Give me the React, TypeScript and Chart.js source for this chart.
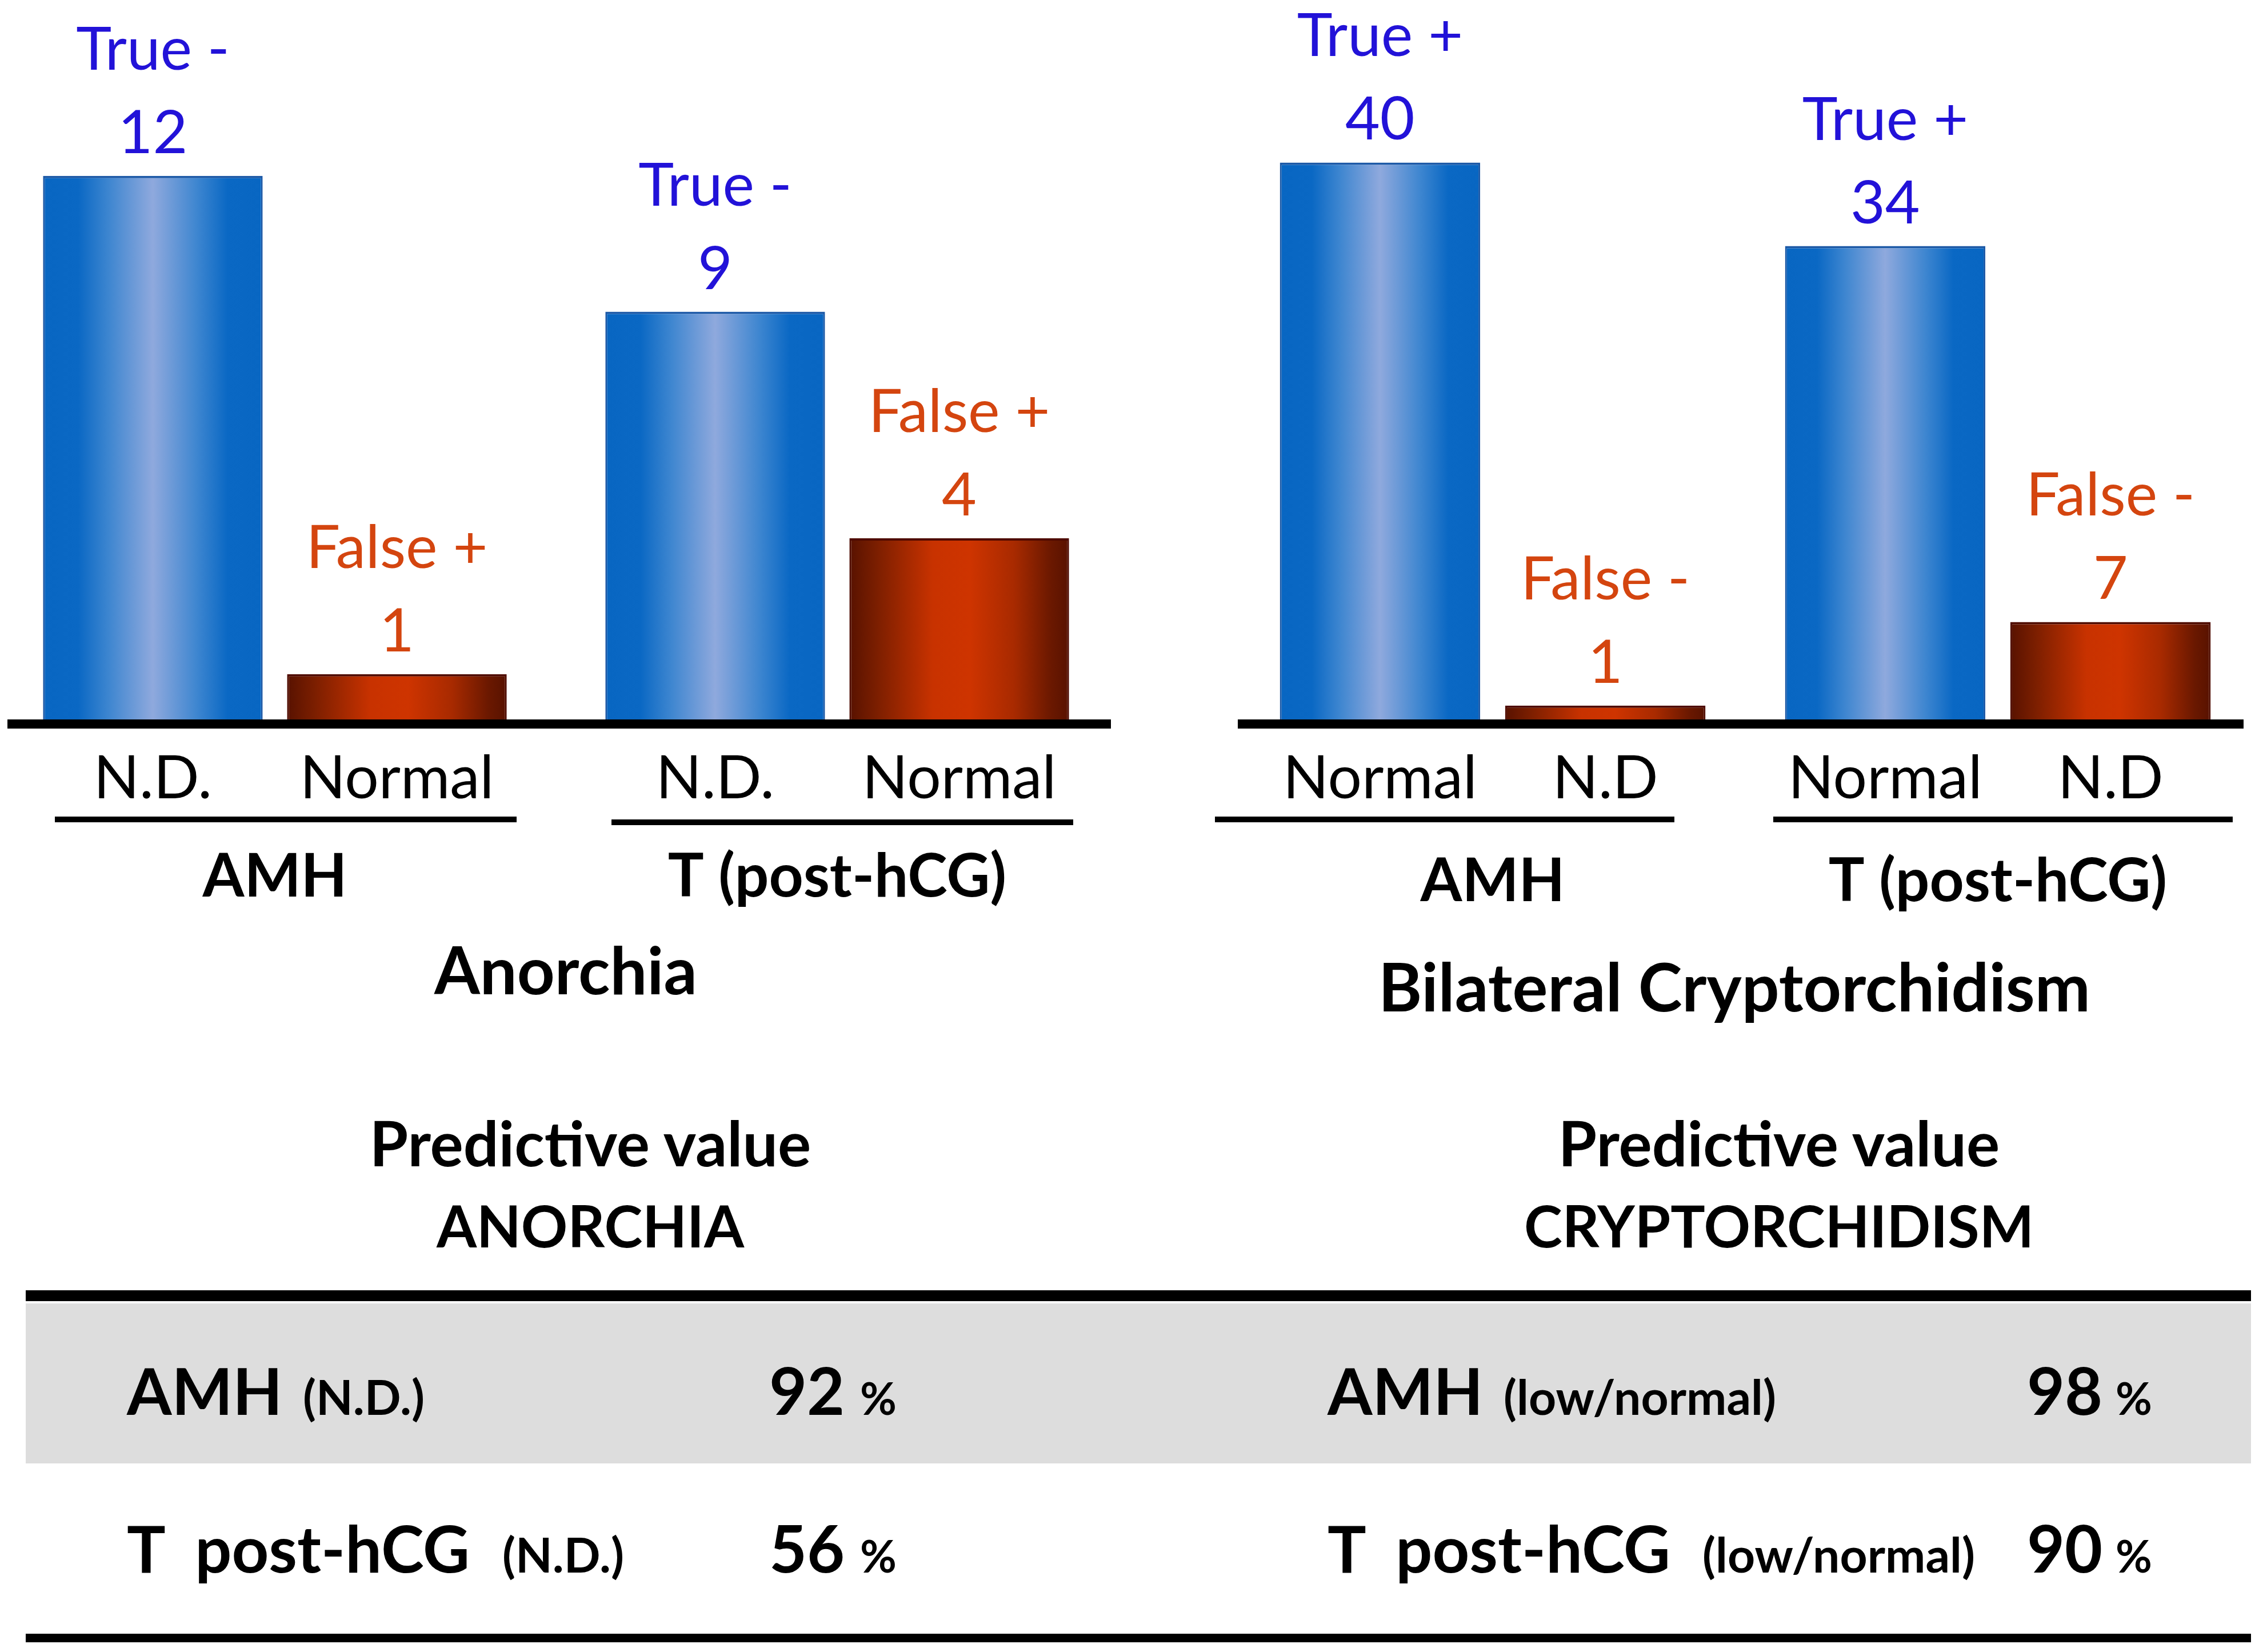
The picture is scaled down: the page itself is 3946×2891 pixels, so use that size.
import React, { useEffect, useRef } from "react";
import { Chart, registerables } from "chart.js";

Chart.register(...registerables);

// ---------------- data ----------------
const anorchiaCategories = ["AMH", "T (post-hCG)"];
const anorchiaSeriesNames = ["N.D.", "Normal"];
const anorchiaBlueValues = [12, 9];
const anorchiaRedValues = [1, 4];
const anorchiaBlueTags = ["True -", "True -"];
const anorchiaRedTags = ["False +", "False +"];
const anorchiaTitle = "Anorchia";

const cryptCategories = ["AMH", "T (post-hCG)"];
const cryptSeriesNames = ["Normal", "N.D"];
const cryptBlueValues = [40, 34];
const cryptRedValues = [1, 7];
const cryptBlueTags = ["True +", "True +"];
const cryptRedTags = ["False -", "False -"];
const cryptTitle = "Bilateral Cryptorchidism";

const tableHeaderAnorchia = ["Predictive value", "ANORCHIA"];
const tableHeaderCrypt = ["Predictive value", "CRYPTORCHIDISM"];
const tableRowMarkers = ["AMH", "T  post-hCG"];
const anorchiaQualifiers = ["(N.D.)", "(N.D.)"];
const anorchiaPredictive = [92, 56];
const cryptQualifiers = ["(low/normal)", "(low/normal)"];
const cryptPredictive = [98, 90];

// ---------------- styles ----------------
const FONT = "Lato, 'Open Sans', sans-serif";
const BLUE_TEXT = "#2212D8";
const RED_TEXT = "#D4450F";
const BLUE_STOPS: [number, string][] = [
  [0, "#0866C2"],
  [0.16, "#0A68C4"],
  [0.3, "#3E86D0"],
  [0.5, "#8FA9DD"],
  [0.7, "#3E86D0"],
  [0.84, "#0A68C4"],
  [1, "#0866C2"],
];
const RED_STOPS: [number, string][] = [
  [0, "#581200"],
  [0.12, "#7A1E00"],
  [0.38, "#C83200"],
  [0.55, "#CE3400"],
  [0.75, "#A82A00"],
  [0.92, "#6A1800"],
  [1, "#581200"],
];

function makeFill(stops: [number, string][], catPct: number, barPct: number) {
  return (c: any) => {
    const chart = c.chart;
    const xs = chart && chart.scales ? chart.scales.x : null;
    if (!xs || c.dataIndex == null || c.datasetIndex == null || !xs.width) {
      return stops[3][1];
    }
    const n = chart.data.labels.length;
    const nds = chart.data.datasets.length;
    const catW = xs.width / n;
    const slot = (catW * catPct) / nds;
    const cx = xs.getPixelForValue(c.dataIndex) + (c.datasetIndex - (nds - 1) / 2) * slot;
    const w = slot * barPct;
    const g = chart.ctx.createLinearGradient(cx - w / 2, 0, cx + w / 2, 0);
    stops.forEach(([o, col]) => g.addColorStop(o, col));
    return g;
  };
}

const decorPlugin = {
  id: "panelDecor",
  afterDatasetsDraw(chart: any, _args: any, opts: any) {
    const ctx = chart.ctx;
    const area = chart.chartArea;
    ctx.save();
    // baseline
    ctx.fillStyle = "#000";
    ctx.fillRect(opts.baseX0, area.bottom, opts.baseX1 - opts.baseX0, 16);
    ctx.textAlign = "center";
    ctx.textBaseline = "alphabetic";
    chart.data.datasets.forEach((ds: any, di: number) => {
      const meta = chart.getDatasetMeta(di);
      meta.data.forEach((el: any, i: number) => {
        const x = el.x;
        const top = el.y;
        ctx.fillStyle = ds.tagColor;
        ctx.font = `400 105px ${FONT}`;
        ctx.fillText(String(ds.data[i]), x, top - 40);
        ctx.fillText(ds.tags[i], x, top - 40 - 146);
        ctx.fillStyle = "#000";
        ctx.font = `400 105px ${FONT}`;
        ctx.fillText(ds.label, x, opts.subBaseline);
      });
    });
    ctx.fillStyle = "#000";
    chart.data.labels.forEach((lab: string, i: number) => {
      const cx = chart.scales.x.getPixelForValue(i);
      const uc = cx + opts.underlineOffsets[i];
      ctx.fillRect(uc - opts.underlineHalf, opts.underlineY[i] - 5, opts.underlineHalf * 2, 10);
      ctx.font = `700 105px ${FONT}`;
      ctx.fillText(lab, cx, opts.groupBaseline);
    });
    ctx.restore();
  },
};

type PanelProps = {
  left: number;
  width: number;
  height: number;
  padLeft: number;
  padRight: number;
  categories: string[];
  seriesNames: string[];
  blue: number[];
  red: number[];
  blueTags: string[];
  redTags: string[];
  yMax: number;
  catPct: number;
  barPct: number;
  baseX0: number;
  baseX1: number;
  underlineOffsets: number[];
  underlineHalf: number;
  underlineY: number[];
  groupBaseline: number;
};

function BarPanel(p: PanelProps) {
  const ref = useRef<HTMLCanvasElement | null>(null);
  useEffect(() => {
    if (!ref.current) return;
    const chart = new Chart(ref.current, {
      type: "bar",
      data: {
        labels: p.categories,
        datasets: [
          {
            label: p.seriesNames[0],
            data: p.blue,
            backgroundColor: makeFill(BLUE_STOPS, p.catPct, p.barPct),
            borderColor: "#1B58A6",
            borderWidth: { top: 4, left: 3, right: 3, bottom: 0 },
            categoryPercentage: p.catPct,
            barPercentage: p.barPct,
            tags: p.blueTags,
            tagColor: BLUE_TEXT,
          } as any,
          {
            label: p.seriesNames[1],
            data: p.red,
            backgroundColor: makeFill(RED_STOPS, p.catPct, p.barPct),
            borderColor: "#4E0A00",
            borderWidth: { top: 4, left: 3, right: 3, bottom: 0 },
            categoryPercentage: p.catPct,
            barPercentage: p.barPct,
            tags: p.redTags,
            tagColor: RED_TEXT,
          } as any,
        ],
      },
      options: {
        animation: false,
        responsive: false,
        devicePixelRatio: 1,
        layout: {
          padding: { top: 70, bottom: p.height - 1259, left: p.padLeft, right: p.padRight },
        },
        scales: {
          x: { display: false, offset: true, grid: { display: false } },
          y: { display: false, min: 0, max: p.yMax },
        },
        plugins: {
          legend: { display: false },
          tooltip: { enabled: false },
          title: { display: false },
          panelDecor: {
            baseX0: p.baseX0,
            baseX1: p.baseX1,
            subBaseline: 1397,
            underlineOffsets: p.underlineOffsets,
            underlineHalf: p.underlineHalf,
            underlineY: p.underlineY,
            groupBaseline: p.groupBaseline,
          },
        } as any,
      },
      plugins: [decorPlugin],
    });
    return () => chart.destroy();
  }, []);
  return (
    <canvas
      ref={ref}
      width={p.width}
      height={p.height}
      style={{ position: "absolute", left: p.left, top: 0, width: p.width, height: p.height, display: "block" }}
    />
  );
}

function Txt(props: {
  x: number;
  y: number;
  size: number;
  weight?: number;
  center?: boolean;
  children: React.ReactNode;
}) {
  const { x, y, size, weight = 700, center = false } = props;
  return (
    <div
      style={{
        position: "absolute",
        left: x,
        top: y - 0.987 * size,
        fontSize: size,
        lineHeight: 1.2,
        fontWeight: weight,
        fontFamily: FONT,
        whiteSpace: "pre",
        color: "#000",
        transform: center ? "translateX(-50%)" : undefined,
      }}
    >
      {props.children}
    </div>
  );
}

export default function App() {
  useEffect(() => {
    document.body.style.margin = "0";
    document.body.style.background = "#fff";
  }, []);
  const rowY = [2477, 2753];
  return (
    <div style={{ position: "relative", width: 3946, height: 2891, background: "#fff", overflow: "hidden" }}>
      <BarPanel
        left={-11}
        width={1968}
        height={1800}
        padLeft={0}
        padRight={0}
        categories={anorchiaCategories}
        seriesNames={anorchiaSeriesNames}
        blue={anorchiaBlueValues}
        red={anorchiaRedValues}
        blueTags={anorchiaBlueTags}
        redTags={anorchiaRedTags}
        yMax={15}
        catPct={0.868}
        barPct={0.9}
        baseX0={24}
        baseX1={1955}
        underlineOffsets={[19, 9]}
        underlineHalf={404}
        underlineY={[1434, 1439]}
        groupBaseline={1569}
      />
      <BarPanel
        left={2092}
        width={1854}
        height={1800}
        padLeft={78}
        padRight={8}
        categories={cryptCategories}
        seriesNames={cryptSeriesNames}
        blue={cryptBlueValues}
        red={cryptRedValues}
        blueTags={cryptBlueTags}
        redTags={cryptRedTags}
        yMax={48.8}
        catPct={0.892}
        barPct={0.889}
        baseX0={74}
        baseX1={1834}
        underlineOffsets={[-84, 9]}
        underlineHalf={402}
        underlineY={[1434, 1434]}
        groupBaseline={1577}
      />

      <Txt x={990} y={1740} size={115} center>
        {anorchiaTitle}
      </Txt>
      <Txt x={3035} y={1770} size={116} center>
        {cryptTitle}
      </Txt>

      <Txt x={1033} y={2042} size={109} center>
        {tableHeaderAnorchia[0]}
      </Txt>
      <Txt x={1033} y={2184} size={101} center>
        {tableHeaderAnorchia[1]}
      </Txt>
      <Txt x={3113} y={2042} size={109} center>
        {tableHeaderCrypt[0]}
      </Txt>
      <Txt x={3113} y={2184} size={101} center>
        {tableHeaderCrypt[1]}
      </Txt>

      <div style={{ position: "absolute", left: 45, top: 2258, width: 3894, height: 19, background: "#000" }} />
      <div style={{ position: "absolute", left: 45, top: 2281, width: 3894, height: 280, background: "#DDDDDD" }} />
      <div style={{ position: "absolute", left: 45, top: 2859, width: 3894, height: 15, background: "#000" }} />

      {tableRowMarkers.map((m, i) => (
        <React.Fragment key={i}>
          <Txt x={222} y={rowY[i]} size={113}>
            {m}
          </Txt>
          <Txt x={i === 0 ? 530 : 879} y={rowY[i]} size={84}>
            {anorchiaQualifiers[i]}
          </Txt>
          <Txt x={1346} y={rowY[i]} size={114}>
            {String(anorchiaPredictive[i])}
          </Txt>
          <Txt x={1505} y={rowY[i]} size={78}>
            %
          </Txt>
          <Txt x={2323} y={rowY[i]} size={113}>
            {m}
          </Txt>
          <Txt x={i === 0 ? 2631 : 2979} y={rowY[i]} size={84}>
            {cryptQualifiers[i]}
          </Txt>
          <Txt x={3547} y={rowY[i]} size={114}>
            {String(cryptPredictive[i])}
          </Txt>
          <Txt x={3702} y={rowY[i]} size={78}>
            %
          </Txt>
        </React.Fragment>
      ))}
    </div>
  );
}
